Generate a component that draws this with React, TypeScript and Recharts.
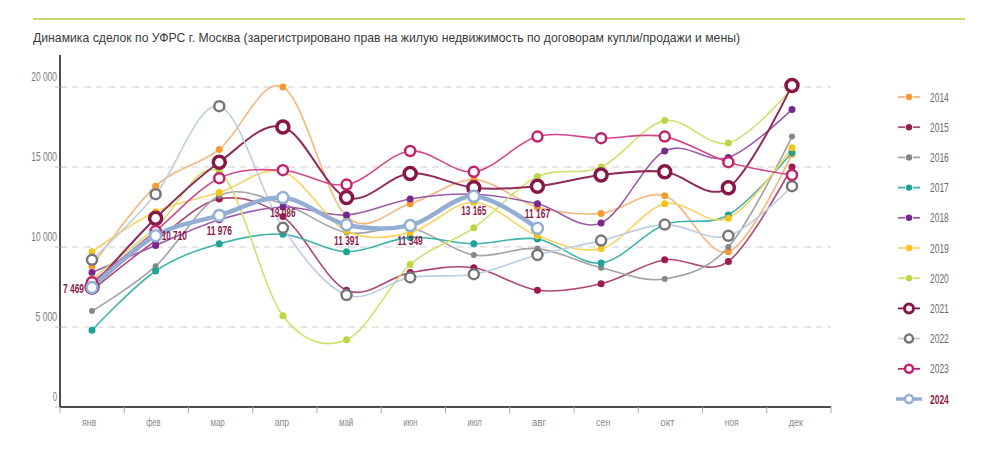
import { LineChart, Line, XAxis, YAxis, CartesianGrid, Legend, LabelList } from "recharts";

const months = ["янв", "фев", "мар", "апр", "май", "июн", "июл", "авг", "сен", "окт", "ноя", "дек"];
const yTicks = [0, 5000, 10000, 15000, 20000];

const y2014 = [8800, 13800, 16100, 20000, 11900, 12700, 14200, 12500, 12100, 13200, 9700, 15800];
const y2015 = [7300, 10400, 13000, 11900, 7300, 8400, 8700, 7300, 7700, 9200, 9100, 15000];
const y2016 = [6000, 8800, 13200, 12700, 10900, 11200, 9500, 9900, 8700, 8000, 10000, 16900];
const y2017 = [4800, 8500, 10200, 10800, 9700, 10600, 10200, 10500, 9000, 11400, 12000, 15900];
const y2018 = [8400, 10100, 11700, 12500, 12000, 13000, 13300, 12700, 11500, 16000, 15600, 18600];
const y2019 = [9700, 12200, 13400, 14700, 11000, 10900, 12800, 10700, 9900, 12700, 11800, 16200];
const y2020 = [8000, 11200, 14700, 5700, 4200, 8900, 11200, 14400, 15000, 17900, 16500, 19900];
const y2021 = [7500, 11800, 15300, 17500, 13100, 14600, 13700, 13800, 14500, 14700, 13700, 20100];
const y2022 = [9200, 13300, 18800, 11200, 7000, 8100, 8300, 9500, 10400, 11400, 10700, 13800];
const y2023 = [7800, 11000, 14300, 14800, 13900, 16000, 14700, 16900, 16800, 16900, 15300, 14500];
const y2024 = [7469, 10710, 11976, 13086, 11391, 11349, 13165, 11167, null, null, null, null];

const data = months.map((m, i) => ({
  m,
  y2014: y2014[i],
  y2015: y2015[i],
  y2016: y2016[i],
  y2017: y2017[i],
  y2018: y2018[i],
  y2019: y2019[i],
  y2020: y2020[i],
  y2021: y2021[i],
  y2022: y2022[i],
  y2023: y2023[i],
  y2024: y2024[i],
}));

// dot = small filled marker, ring = hollow marker
const series = [
  { key: "y2014", name: "2014", line: "#f6b67c", mark: "#f39b30", kind: "dot" },
  { key: "y2015", name: "2015", line: "#b04877", mark: "#991b52", kind: "dot" },
  { key: "y2016", name: "2016", line: "#a3a3a3", mark: "#868686", kind: "dot" },
  { key: "y2017", name: "2017", line: "#3db4aa", mark: "#1fa397", kind: "dot" },
  { key: "y2018", name: "2018", line: "#9b5bab", mark: "#76288b", kind: "dot" },
  { key: "y2019", name: "2019", line: "#f8d35e", mark: "#f5c11c", kind: "dot" },
  { key: "y2020", name: "2020", line: "#d0e06c", mark: "#bfd545", kind: "dot" },
  { key: "y2021", name: "2021", line: "#8f2b5b", mark: "#861848", kind: "ring" },
  { key: "y2022", name: "2022", line: "#bdcee4", mark: "#777777", kind: "ring" },
  { key: "y2023", name: "2023", line: "#d2478a", mark: "#c2226b", kind: "ring" },
  { key: "y2024", name: "2024", line: "#93aed4", mark: "#93aed4", kind: "ring" },
];

const TITLE =
  "Динамика сделок по УФРС г. Москва (зарегистрировано прав на жилую недвижимость по договорам купли/продажи и мены)";
const FONT = "'Liberation Sans', 'DejaVu Sans', sans-serif";
const LABEL_RED = "#8b1a4a";

const fmt = (v: number) => String(v).replace(/\B(?=(\d{3})+(?!\d))/g, " ");

// the original uses a condensed face, squeeze text to its width
const narrow = (s: string, cw: number) => ({
  textLength: s.length * cw,
  lengthAdjust: "spacingAndGlyphs",
});

// catmull-rom style cardinal curve, like the soft overshooting lines of the original
const cardinal = (ctx: any) => {
  const k = 1 / 6;
  let x0 = NaN, y0 = NaN, x1 = NaN, y1 = NaN, x2 = NaN, y2 = NaN, n = 0;
  const seg = (x: number, y: number) =>
    ctx.bezierCurveTo(x1 + k * (x2 - x0), y1 + k * (y2 - y0), x2 + k * (x1 - x), y2 + k * (y1 - y), x2, y2);
  return {
    areaStart() {},
    areaEnd() {},
    lineStart() {
      x0 = x1 = x2 = y0 = y1 = y2 = NaN;
      n = 0;
    },
    lineEnd() {
      if (n === 2) ctx.lineTo(x2, y2);
      else if (n === 3) seg(x1, y1);
    },
    point(x: number, y: number) {
      x = +x;
      y = +y;
      if (n === 0) {
        n = 1;
        ctx.moveTo(x, y);
      } else if (n === 1) {
        n = 2;
        x1 = x;
        y1 = y;
      } else {
        n = 3;
        seg(x, y);
      }
      x0 = x1; x1 = x2; x2 = x;
      y0 = y1; y1 = y2; y2 = y;
    },
  };
};

const markerFor = (s: any) => {
  if (s.kind === "dot") return { r: s.key === "y2016" ? 3 : 3.5, fill: s.mark, stroke: s.mark, strokeWidth: 0 };
  if (s.key === "y2021") return { r: 6, fill: "#fff", stroke: s.mark, strokeWidth: 3.5 };
  if (s.key === "y2024") return { r: 5.5, fill: "#fff", stroke: s.mark, strokeWidth: 2.5 };
  return { r: 5, fill: "#fff", stroke: s.mark, strokeWidth: 2.5 };
};

const BAND = 771 / 12;

const XTick = (props: any) => {
  const { x, y, payload, index } = props;
  return (
    <g>
      <line x1={x - BAND / 2} x2={x - BAND / 2} y1={y} y2={y + 6} stroke="#aaa" strokeWidth={1} />
      {index === months.length - 1 && (
        <line x1={x + BAND / 2} x2={x + BAND / 2} y1={y} y2={y + 6} stroke="#aaa" strokeWidth={1} />
      )}
      <text
        x={x - 3}
        y={y + 15}
        textAnchor="middle"
        dominantBaseline="central"
        fontSize={11.5}
        fill="#8a8a8a"
        fontFamily={FONT}
        {...narrow(payload.value, 4.8)}
      >
        {payload.value}
      </text>
    </g>
  );
};

const YTick = (props: any) => {
  const { x, y, payload } = props;
  const s = fmt(payload.value);
  return (
    <text
      x={x + 2}
      y={y - 11}
      textAnchor="end"
      dominantBaseline="central"
      fontSize={13}
      fill="#7a7a7a"
      fontFamily={FONT}
      {...narrow(s, 4.3)}
    >
      {s}
    </text>
  );
};

const labelOffsets = [
  { dx: -8, dy: 2, anchor: "end" },
  { dx: 6, dy: 0, anchor: "start" },
  { dx: 0, dy: 16, anchor: "middle" },
  { dx: 0, dy: 15, anchor: "middle" },
  { dx: 0, dy: 16, anchor: "middle" },
  { dx: 0, dy: 16, anchor: "middle" },
  { dx: 0, dy: 15, anchor: "middle" },
  { dx: 0, dy: -14, anchor: "middle" },
];

const Label2024 = (props: any) => {
  const { x, y, value, index } = props;
  if (value == null || !labelOffsets[index]) return null;
  const o = labelOffsets[index];
  const s = fmt(value);
  return (
    <text
      x={x + o.dx}
      y={y + o.dy}
      textAnchor={o.anchor}
      dominantBaseline="central"
      fontSize={12}
      fontWeight={700}
      fill={LABEL_RED}
      fontFamily={FONT}
      {...narrow(s, 4.2)}
    >
      {s}
    </text>
  );
};

const LegendBox = () => (
  <svg width={100} height={340}>
    {series.map((s, i) => {
      const cy = 15 + i * 30.2;
      const is24 = s.key === "y2024";
      return (
        <g key={s.key}>
          {s.kind === "dot" ? (
            <>
              <line x1={2} x2={9} y1={cy} y2={cy} stroke={s.line} strokeWidth={1.8} />
              <line x1={17} x2={24} y1={cy} y2={cy} stroke={s.line} strokeWidth={1.8} />
              <circle cx={13} cy={cy} r={3.2} fill={s.mark} />
            </>
          ) : (
            <>
              <line
                x1={is24 ? 0 : 2}
                x2={is24 ? 26 : 24}
                y1={cy}
                y2={cy}
                stroke={s.key === "y2022" ? s.line : s.mark}
                strokeWidth={is24 ? 3.5 : 1.8}
              />
              <circle
                cx={13}
                cy={cy}
                r={s.key === "y2021" ? 4.5 : 4}
                fill="#fff"
                stroke={s.mark}
                strokeWidth={s.key === "y2021" ? 3 : 2.5}
              />
            </>
          )}
          <text
            x={34}
            y={cy}
            dominantBaseline="central"
            fontSize={13.5}
            fontFamily={FONT}
            fontWeight={is24 ? 700 : 400}
            fill={is24 ? LABEL_RED : "#6a6a6a"}
            {...narrow(s.name, 4.7)}
          >
            {s.name}
          </text>
        </g>
      );
    })}
  </svg>
);

export default function App() {
  return (
    <div style={{ position: "relative", width: 986, height: 456, fontFamily: FONT }}>
      <div style={{ position: "absolute", left: 25, top: 10, width: 932, height: 2, background: "#c9da72" }} />
      <svg style={{ position: "absolute", left: 25, top: 20 }} width={940} height={22}>
        <text
          x={0}
          y={14}
          fontSize={13.5}
          fill="#3a3a3a"
          fontFamily={FONT}
          textLength={707}
          lengthAdjust="spacingAndGlyphs"
        >
          {TITLE}
        </text>
      </svg>
      <LineChart width={986} height={456} data={data} margin={{ top: 47, right: 163, bottom: 27, left: 12 }}>
        <CartesianGrid vertical={false} stroke="#cfcfcf" strokeDasharray="7 5" horizontalValues={[5000, 10000, 15000, 20000]} />
        <XAxis xAxisId="pts" dataKey="m" scale="point" padding={{ left: 32, right: 39 }} hide />
        <XAxis
          xAxisId="lab"
          dataKey="m"
          scale="band"
          axisLine={{ stroke: "#111", strokeWidth: 1.5 }}
          tickLine={false}
          tickSize={0}
          tickMargin={0}
          height={30}
          interval={0}
          tick={<XTick />}
        />
        <YAxis
          domain={[0, 22000]}
          ticks={yTicks}
          width={40}
          axisLine={{ stroke: "#111", strokeWidth: 1.5 }}
          tickLine={{ stroke: "#bbb" }}
          tickSize={5}
          tickMargin={0}
          tick={<YTick />}
        />
        <Legend
          layout="vertical"
          align="center"
          verticalAlign="middle"
          content={<LegendBox />}
          wrapperStyle={{ position: "absolute", left: 888, top: 74, width: 100, height: 340 }}
        />
        {series.map((s) => (
          <Line
            key={s.key}
            xAxisId="pts"
            dataKey={s.key}
            name={s.name}
            type={cardinal as any}
            stroke={s.line}
            strokeWidth={s.key === "y2024" ? 4.5 : s.key === "y2021" ? 2 : 1.6}
            dot={markerFor(s)}
            activeDot={false}
            isAnimationActive={false}
          >
            {s.key === "y2024" && <LabelList dataKey="y2024" content={<Label2024 />} />}
          </Line>
        ))}
      </LineChart>
    </div>
  );
}
